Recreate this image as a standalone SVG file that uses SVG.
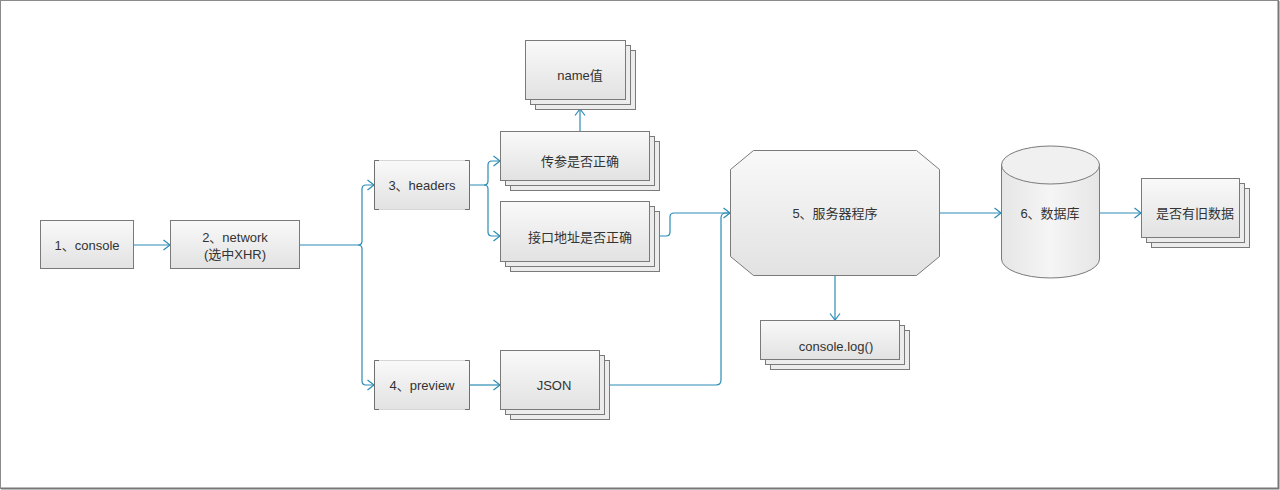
<svg xmlns="http://www.w3.org/2000/svg" width="1280" height="490" viewBox="0 0 1280 490">
<style>
text{font-family:"Liberation Sans","Noto Sans CJK SC",sans-serif;font-size:13px;fill:#333;text-anchor:middle;dominant-baseline:central}
.box{fill:url(#g);stroke:#7a7a7a;stroke-width:1}
.back{fill:#ececec;stroke:#7a7a7a;stroke-width:1}
.conn path{fill:none;stroke:#2a8bb5;stroke-width:1.2}
.br{fill:none;stroke:#6f6f6f;stroke-width:1}
</style>
<defs>
<linearGradient id="g" x1="0" y1="0" x2="0" y2="1">
<stop offset="0" stop-color="#f9f9f9"/>
<stop offset="1" stop-color="#e2e2e2"/>
</linearGradient>
<linearGradient id="gc" x1="0" y1="0" x2="1" y2="0">
<stop offset="0" stop-color="#e6e6e6"/>
<stop offset="0.5" stop-color="#f5f5f5"/>
<stop offset="1" stop-color="#e6e6e6"/>
</linearGradient>
<marker id="a" viewBox="0 0 10 12" refX="9.5" refY="6" markerWidth="10" markerHeight="12" markerUnits="userSpaceOnUse" orient="auto">
<path d="M3,1 L9.5,6 L3,11" fill="none" stroke="#2a8bb5" stroke-width="1.2"/>
</marker>
</defs>
<rect x="0.5" y="0.5" width="1278" height="488" fill="#fff" stroke="#8a8a8a" stroke-width="1"/>
<path d="M1278.5,1 V488.5 H1" fill="none" stroke="#777" stroke-width="2"/>

<g class="conn" id="connectors">
<path d="M134,245 H170" marker-end="url(#a)"/>
<path d="M299,245 H358 Q362,245 362,241 V189 Q362,185 366,185 H374" marker-end="url(#a)"/>
<path d="M358,245 Q362,245 362,249 V381 Q362,385 366,385 H374" marker-end="url(#a)"/>
<path d="M469,185 H484 Q488,185 488,181 V165 Q488,161 492,161 H500" marker-end="url(#a)"/>
<path d="M484,185 Q488,185 488,189 V232 Q488,236 492,236 H500" marker-end="url(#a)"/>
<path d="M580,131 V109" marker-end="url(#a)"/>
<path d="M469,385 H500" marker-end="url(#a)"/>
<path d="M659,236 H666 Q670,236 670,232 V217 Q670,213 674,213 H730" marker-end="url(#a)"/>
<path d="M609,385 H716 Q721,385 721,380 V218 Q721,213 726,213 H730"/>
<path d="M835,275 V320" marker-end="url(#a)"/>
<path d="M939,213 H1001" marker-end="url(#a)"/>
<path d="M1099,213 H1141" marker-end="url(#a)"/>
</g>

<g id="n1">
<rect class="box" x="40.5" y="220.5" width="93" height="48"/>
<text x="87" y="245">1、console</text>
</g>

<g id="n2">
<rect class="box" x="170.5" y="220.5" width="129" height="48"/>
<text x="235" y="237">2、network</text>
<text x="235" y="254">(选中XHR)</text>
</g>

<g id="n3">
<rect x="374.5" y="160.5" width="95" height="49" fill="url(#g)" stroke="#d6d6d6"/>
<path class="br" d="M379,160.5 H374.5 V209.5 H379 M465,160.5 H469.5 V209.5 H465"/>
<text x="422" y="185">3、headers</text>
</g>

<g id="n4">
<rect x="374.5" y="360.5" width="95" height="49" fill="url(#g)" stroke="#d6d6d6"/>
<path class="br" d="M379,360.5 H374.5 V409.5 H379 M465,360.5 H469.5 V409.5 H465"/>
<text x="422" y="385">4、preview</text>
</g>

<g id="n_name">
<rect class="back" x="535.5" y="50.5" width="100" height="59"/>
<rect class="back" x="530.5" y="45.5" width="100" height="59"/>
<rect class="box" x="525.5" y="40.5" width="100" height="59"/>
<text x="580" y="75">name值</text>
</g>

<g id="n_param">
<rect class="back" x="510.5" y="141.5" width="149" height="49"/>
<rect class="back" x="505.5" y="136.5" width="149" height="49"/>
<rect class="box" x="500.5" y="131.5" width="149" height="49"/>
<text x="580" y="161">传参是否正确</text>
</g>

<g id="n_url">
<rect class="back" x="510.5" y="211.5" width="149" height="60"/>
<rect class="back" x="505.5" y="206.5" width="149" height="60"/>
<rect class="box" x="500.5" y="201.5" width="149" height="60"/>
<text x="580" y="237">接口地址是否正确</text>
</g>

<g id="n_json">
<rect class="back" x="510.5" y="360.5" width="99" height="59"/>
<rect class="back" x="505.5" y="355.5" width="99" height="59"/>
<rect class="box" x="500.5" y="350.5" width="99" height="59"/>
<text x="554" y="385">JSON</text>
</g>

<g id="n5">
<polygon class="box" points="753.5,150.5 916.5,150.5 939.5,169.5 939.5,256.5 916.5,275.5 753.5,275.5 730.5,256.5 730.5,169.5"/>
<text x="835" y="213">5、服务器程序</text>
</g>

<g id="n_log">
<rect class="back" x="770.5" y="330.5" width="139" height="39"/>
<rect class="back" x="765.5" y="325.5" width="139" height="39"/>
<rect class="box" x="760.5" y="320.5" width="139" height="39"/>
<text x="836" y="346">console.log()</text>
</g>

<g id="n6">
<path d="M1001.5,165 V259 A49,19 0 0 0 1099.5,259 V165" fill="url(#gc)" stroke="#7a7a7a"/>
<ellipse cx="1050.5" cy="165" rx="49" ry="19" fill="#f0f0f0" stroke="#7a7a7a"/>
<text x="1050" y="213">6、数据库</text>
</g>

<g id="n_old">
<rect class="back" x="1151.5" y="188.5" width="98" height="59"/>
<rect class="back" x="1146.5" y="183.5" width="98" height="59"/>
<rect class="box" x="1141.5" y="178.5" width="98" height="59"/>
<text x="1195" y="213">是否有旧数据</text>
</g>
</svg>
